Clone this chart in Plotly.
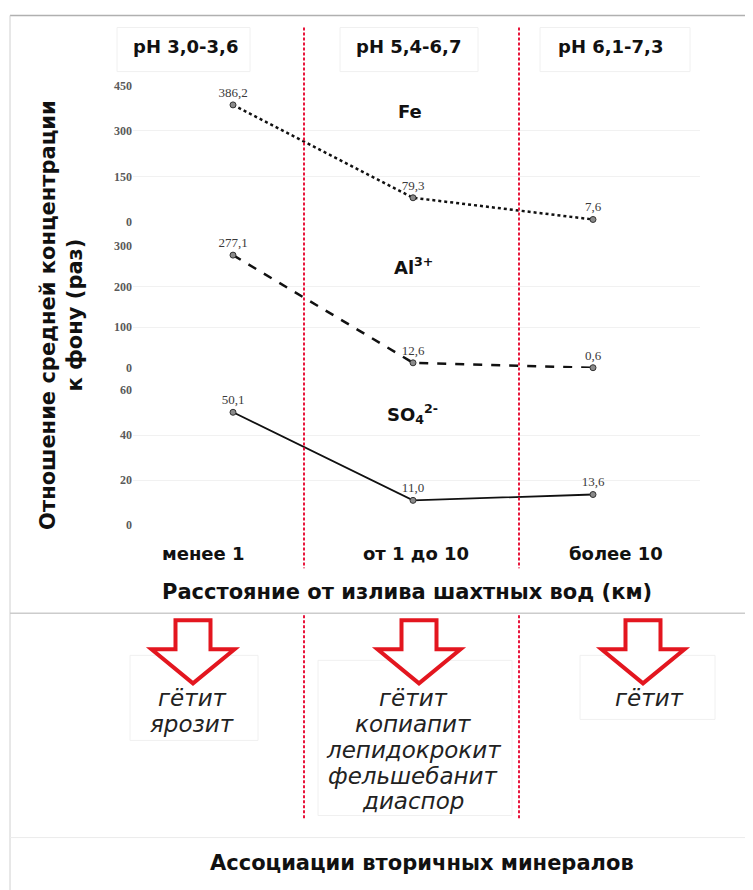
import plotly.graph_objects as go

# ---------------- data ----------------
categories = ["менее 1", "от 1 до 10", "более 10"]
fe_values = [386.2, 79.3, 7.6]
al_values = [277.1, 12.6, 0.6]
so4_values = [50.1, 11.0, 13.6]
fe_ticks = [0, 150, 300, 450]
al_ticks = [0, 100, 200, 300]
so4_ticks = [0, 20, 40, 60]
ph_labels = ["pH 3,0-3,6", "pH 5,4-6,7", "pH 6,1-7,3"]
minerals = [["гётит", "ярозит"],
            ["гётит", "копиапит", "лепидокрокит", "фельшебанит", "диаспор"],
            ["гётит"]]
y_title = "Отношение средней концентрации<br>к фону (раз)"
x_title = "Расстояние от излива шахтных вод (км)"
bottom_title = "Ассоциации вторичных минералов"

# ---------------- layout helpers (screen pixels -> paper) ----------------
W, H = 753, 890
OFF_X, OFF_Y, SY = 8.0, 15.5, 0.983   # page offset / scaling seen in the capture
def px(x):
    return (x - OFF_X) / W
def py(y):
    return 1 - ((y - OFF_Y) / SY) / H

X0_PX, UNIT_PX = 233, 180          # category 0 screen position and spacing
XD0, XD1 = 133, 700                 # x-axis domain in screen pixels
x_range = [-(X0_PX - XD0) / UNIT_PX, (XD1 - X0_PX) / UNIT_PX]

xs = list(range(len(categories)))
BOLD = "DejaVu Sans"
SERIF = "Liberation Serif"

fig = go.Figure()

def add_series(vals, yaxis, dash, width):
    fig.add_trace(go.Scatter(
        x=xs, y=vals, xaxis="x", yaxis=yaxis, mode="lines+markers+text",
        line=dict(color="#111111", width=width, dash=dash),
        marker=dict(size=6, color="#8a8a8a", line=dict(color="#333333", width=1)),
        texttemplate="%{y:.1f}", textposition="top center",
        textfont=dict(family=SERIF, size=13, color="#3a3a3a"),
        cliponaxis=False, showlegend=False, hoverinfo="skip"))

add_series(fe_values, "y", "dot", 2.5)
add_series(al_values, "y2", "dash", 2.5)
add_series(so4_values, "y3", "solid", 1.8)

tickfont = dict(family=SERIF, size=12, color="#5a5a5a", weight="bold")
def yax(dom_top, dom_bot, ticks):
    return dict(domain=[py(dom_bot), py(dom_top)], range=[ticks[0], ticks[-1]],
                tickvals=ticks, ticktext=[str(t) for t in ticks], tickfont=tickfont,
                showgrid=True, gridcolor="#f1f1f1", zeroline=False, showline=False,
                ticks="", anchor="x", fixedrange=True)

shapes = []
# frame lines
shapes.append(dict(type="line", xref="paper", yref="paper", x0=px(10), x1=px(750), y0=py(16), y1=py(16),
                   line=dict(color="#b0b0b0", width=1.5)))
shapes.append(dict(type="line", xref="paper", yref="paper", x0=px(10), x1=px(10), y0=py(16), y1=py(890),
                   line=dict(color="#d0d0d0", width=1)))
shapes.append(dict(type="line", xref="paper", yref="paper", x0=px(10), x1=px(753), y0=py(613), y1=py(613),
                   line=dict(color="#cccccc", width=1.5)))
shapes.append(dict(type="line", xref="paper", yref="paper", x0=px(10), x1=px(753), y0=py(837), y1=py(837),
                   line=dict(color="#ececec", width=1)))
# faint header boxes
for x0, x1 in [(117, 250), (340, 478), (540, 690)]:
    shapes.append(dict(type="rect", xref="paper", yref="paper", x0=px(x0), x1=px(x1), y0=py(72), y1=py(28),
                       line=dict(color="#f0f0f0", width=1)))
# faint mineral boxes
for x0, x1, y0, y1 in [(130, 258, 655, 740), (318, 512, 660, 815), (580, 715, 655, 719)]:
    shapes.append(dict(type="rect", xref="paper", yref="paper", x0=px(x0), x1=px(x1), y0=py(y1), y1=py(y0),
                       line=dict(color="#f0f0f0", width=1)))
# red dashed dividers
for xv in [304, 519]:
    for ya, yb in [(28, 568), (615, 818)]:
        shapes.append(dict(type="line", xref="paper", yref="paper", x0=px(xv), x1=px(xv), y0=py(ya), y1=py(yb),
                           line=dict(color="#e8163c", width=2, dash="3px,2px")))
# arrows
def arrow_path(cx):
    pts = [(cx - 17.5, 620), (cx + 17.5, 620), (cx + 17.5, 649), (cx + 41.5, 649),
           (cx, 683), (cx - 41.5, 649), (cx - 17.5, 649)]
    return "M " + " L ".join(f"{px(a):.5f},{py(b):.5f}" for a, b in pts) + " Z"
for cx in [193, 419, 643]:
    shapes.append(dict(type="path", xref="paper", yref="paper", path=arrow_path(cx),
                       fillcolor="white", line=dict(color="#e3161f", width=4)))

ann = []
def A(text, x, y, size, family=BOLD, bold=True, italic=False, color="#111111", angle=0):
    ann.append(dict(text=text, x=px(x), y=py(y), xref="paper", yref="paper", showarrow=False,
                    xanchor="center", yanchor="middle", textangle=angle,
                    font=dict(family=family, size=size, color=color,
                              weight="bold" if bold else "normal",
                              style="italic" if italic else "normal")))

for lab, cx in zip(ph_labels, [185, 408, 610]):
    A(lab, cx, 47, 18)
A("Fe", 410, 112, 18)
A("Al<sup>3+</sup>", 413, 266, 18)
A("SO<sub>4</sub><sup>2-</sup>", 412, 414, 18)
for lab, cx in zip(categories, [203, 416, 616]):
    A(lab, cx, 553, 18)
A(x_title, 407, 592, 21)
A(y_title, 62, 315, 21, angle=-90)
A(bottom_title, 422, 862, 21)
col_x = [192, 413, 649]
for col, cx in zip(minerals, col_x):
    for i, m in enumerate(col):
        A(m, cx, 698 + i * 25.7, 23, bold=False, italic=True, color="#222222")

fig.update_layout(
    width=W, height=H, margin=dict(l=0, r=0, t=0, b=0),
    paper_bgcolor="white", plot_bgcolor="rgba(0,0,0,0)",
    separators=", ",
    xaxis=dict(domain=[px(XD0), px(XD1)], range=x_range, anchor="y3", showticklabels=False,
               showgrid=False, zeroline=False, showline=False, ticks="", fixedrange=True),
    yaxis=yax(86, 222, fe_ticks),
    yaxis2=yax(246, 368, al_ticks),
    yaxis3=yax(390, 525, so4_ticks),
    shapes=shapes, annotations=ann,
)

fig.write_html("out.html")
